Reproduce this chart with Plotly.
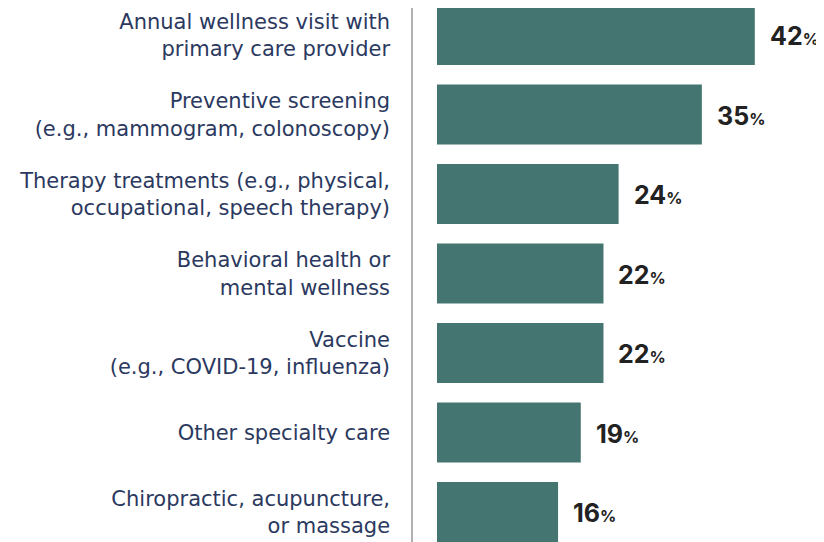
import plotly.graph_objects as go

categories = [
    "Annual wellness visit with<br>primary care provider",
    "Preventive screening<br>(e.g., mammogram, colonoscopy)",
    "Therapy treatments (e.g., physical,<br>occupational, speech therapy)",
    "Behavioral health or<br>mental wellness",
    "Vaccine<br>(e.g., COVID-19, influenza)",
    "Other specialty care",
    "Chiropractic, acupuncture,<br>or massage",
]
values = [42, 35, 24, 22, 22, 19, 16]

BAR = "#457570"
LABEL = "#2b3960"
VAL = "#222222"
FONT = "DejaVu Sans"
VFONT = "Inter"

fig = go.Figure(go.Bar(
    x=values, y=list(range(len(categories))), orientation="h",
    marker=dict(color=BAR, line=dict(width=0)), width=0.755,
    hoverinfo="skip",
))

for i, v in enumerate(values):
    fig.add_annotation(
        x=v, y=i, xref="x", yref="y", xanchor="left", yanchor="middle",
        xshift=13, yshift=-1, showarrow=False,
        text=f"<b>{v}</b><b><span style='font-size:16px'>%</span></b>",
        font=dict(family=VFONT, size=25, color=VAL),
    )

# page body has an 8px margin, so positions are offset by 8px
fig.update_layout(
    width=824, height=542,
    margin=dict(l=405, r=0, t=0, b=0),
    paper_bgcolor="white", plot_bgcolor="white",
    showlegend=False,
    xaxis=dict(range=[-3.17, 52.2], visible=False, fixedrange=True),
    yaxis=dict(
        range=[6.478, -0.34],
        tickmode="array", tickvals=list(range(len(categories))), ticktext=categories,
        showline=True, linecolor="#b0b0b0", linewidth=1.5,
        showgrid=False, zeroline=False, ticks="",
        ticklabelstandoff=17,
        tickfont=dict(family=FONT, size=21, color=LABEL),
    ),
)

fig.write_html("out.html")
